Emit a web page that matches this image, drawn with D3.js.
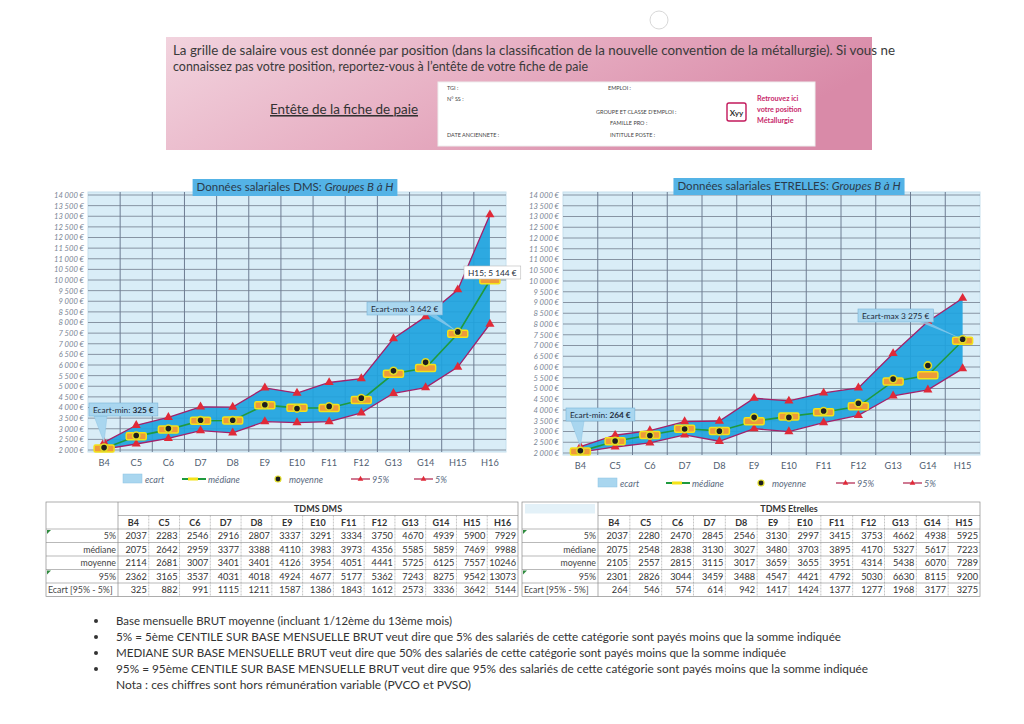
<!DOCTYPE html>
<html><head><meta charset="utf-8">
<script src="https://cdn.jsdelivr.net/npm/d3@7"></script>
<style>
body{margin:0;background:#fff}
svg{display:block}
text{font-family:Lato,"Open Sans",sans-serif}
</style>
</head><body>
<svg id="c" width="1024" height="724"></svg>
<script>
// ---------- DATA ----------
const catsDMS = ["B4","C5","C6","D7","D8","E9","E10","F11","F12","G13","G14","H15","H16"];
const dms5    = [2037,2283,2546,2916,2807,3337,3291,3334,3750,4670,4939,5900,7929];
const dmsMed  = [2075,2642,2959,3377,3388,4110,3983,3973,4356,5585,5859,7469,9988];
const dmsMoy  = [2114,2681,3007,3401,3401,4126,3954,4051,4441,5725,6125,7557,10246];
const dms95   = [2362,3165,3537,4031,4018,4924,4677,5177,5362,7243,8275,9542,13073];
const dmsEcart= [325,882,991,1115,1211,1587,1386,1843,1612,2573,3336,3642,5144];

const catsETR = ["B4","C5","C6","D7","D8","E9","E10","F11","F12","G13","G14","H15"];
const etr5    = [2037,2280,2470,2845,2546,3130,2997,3415,3753,4662,4938,5925];
const etrMed  = [2075,2548,2838,3130,3027,3480,3703,3895,4170,5327,5617,7223];
const etrMoy  = [2105,2557,2815,3115,3017,3659,3655,3951,4314,5438,6070,7289];
const etr95   = [2301,2826,3044,3459,3488,4547,4421,4792,5030,6630,8115,9200];
const etrEcart= [264,546,574,614,942,1417,1424,1377,1277,1968,3177,3275];

const yTickValues = d3.range(2000, 14001, 500);
const rowLabels = ["5%","médiane","moyenne","95%","Ecart [95% - 5%]"];
const legendLabels = ["ecart","médiane","moyenne","95%","5%"];

const headerLines = [
 "La grille de salaire vous est donnée par position (dans la classification de la nouvelle convention de la métallurgie). Si vous ne",
 "connaissez pas votre position, reportez-vous à l\u2019entête de votre fiche de paie"
];
const bullets = [
 "Base mensuelle BRUT moyenne (incluant 1/12ème du 13ème mois)",
 "5% = 5ème CENTILE SUR BASE MENSUELLE BRUT veut dire que 5% des salariés de cette catégorie sont payés moins que la somme indiquée",
 "MEDIANE SUR BASE MENSUELLE BRUT veut dire que 50% des salariés de cette catégorie sont payés moins que la somme indiquée",
 "95% = 95ème CENTILE SUR BASE MENSUELLE BRUT veut dire que 95% des salariés de cette catégorie sont payés moins que la somme indiquée",
 "Nota : ces chiffres sont hors rémunération variable (PVCO et PVSO)"
];

// ---------- SETUP ----------
const svg = d3.select("#c");
const loc = d3.formatLocale({decimal:",", thousands:"\u00a0", grouping:[3], currency:["",""]});
const fmtNum = loc.format(",d");
const fmtEuro = v => fmtNum(v) + "\u00a0€";

// ---------- HEADER ----------
const defs = svg.append("defs");
const pg = defs.append("linearGradient").attr("id","pink").attr("x1","0").attr("x2","1").attr("y1","0").attr("y2","0.3");
pg.append("stop").attr("offset","0").attr("stop-color","#f2d3de");
pg.append("stop").attr("offset","0.5").attr("stop-color","#e7afc3");
pg.append("stop").attr("offset","1").attr("stop-color","#d98aa8");
svg.append("rect").attr("x",166).attr("y",37).attr("width",706).attr("height",113).attr("fill","url(#pink)");
// punch hole mark
svg.append("circle").attr("cx",659).attr("cy",20).attr("r",9).attr("fill","none").attr("stroke","#d8d8d8").attr("stroke-width",1);

const hlW = [722, 415];
headerLines.forEach((t,i)=>{
  svg.append("text").attr("x",173).attr("y",55+i*16).attr("font-size",12.5).attr("fill","#3a3a3a")
    .attr("textLength",hlW[i]).attr("lengthAdjust","spacingAndGlyphs").text(t);
});
svg.append("text").attr("x",270).attr("y",114).attr("font-size",12.5).attr("fill","#333")
  .attr("text-decoration","underline").attr("textLength",148).attr("lengthAdjust","spacingAndGlyphs").text("Entête de la fiche de paie");
svg.append("line").attr("x1",270).attr("x2",418).attr("y1",116).attr("y2",116).attr("stroke","#333").attr("stroke-width",0.8);

svg.append("rect").attr("x",438).attr("y",82).attr("width",377).attr("height",64).attr("fill","#fff").attr("stroke","#eee");
const boxTexts = [["TGI :",447,90],["EMPLOI :",608,90],["N° SS :",447,101],["GROUPE ET CLASSE D'EMPLOI :",596,114],
  ["FAMILLE PRO :",610,125],["DATE ANCIENNETE :",447,137],["INTITULE POSTE :",610,137]];
boxTexts.forEach(([t,x,y])=>svg.append("text").attr("x",x).attr("y",y).attr("font-size",5.5)
  .attr("font-family","Liberation Serif, serif").attr("fill","#444").text(t));
svg.append("rect").attr("x",727).attr("y",103).attr("width",19).attr("height",18).attr("rx",2)
  .attr("fill","#fff").attr("stroke","#c2185b").attr("stroke-width",1.4);
svg.append("text").attr("x",736.5).attr("y",115.5).attr("text-anchor","middle").attr("font-size",8).attr("font-weight","bold").attr("fill","#333").text("Xyy");
["Retrouvez ici","votre position","Métallurgie"].forEach((t,i)=>svg.append("text").attr("x",757).attr("y",101+i*11)
  .attr("font-size",7.2).attr("font-weight","bold").attr("fill","#c8286a").text(t));

// ---------- CHARTS ----------
function drawChart(o){
  const g = svg.append("g");
  const x = d3.scaleBand().domain(o.cats).range([o.x0,o.x1]).padding(0);
  const cx = c => x(c) + x.bandwidth()/2;
  const y = d3.scaleLinear().domain([2000,14000]).range([o.yBot,o.yTop]);
  const data = o.cats.map((c,i)=>({c, lo:o.p5[i], hi:o.p95[i], med:o.med[i], moy:o.moy[i]}));

  g.append("rect").attr("x",o.x0).attr("y",o.yTop-3).attr("width",o.x1-o.x0).attr("height",o.yBot-o.yTop+5)
    .attr("fill","#d9edf7").attr("stroke","#c6e0ee");
  g.selectAll(".hg").data(yTickValues).join("line")
    .attr("x1",o.x0).attr("x2",o.x1).attr("y1",d=>y(d)).attr("y2",d=>y(d))
    .attr("stroke","#7e8a99").attr("stroke-width",0.9);
  g.selectAll(".vg").data(o.cats.slice(1)).join("line")
    .attr("x1",d=>x(d)).attr("x2",d=>x(d)).attr("y1",o.yTop-3).attr("y2",o.yBot+2)
    .attr("stroke","#6d7c92").attr("stroke-width",1);

  // y labels
  const ya = d3.axisLeft(y).tickValues(yTickValues).tickSize(0).tickPadding(0).tickFormat(fmtEuro);
  const yg = g.append("g").attr("transform",`translate(${o.x0-4},0)`).call(ya);
  yg.select(".domain").remove();
  yg.selectAll("text").attr("font-size",7.6).attr("font-style","italic").attr("fill","#7a8594").attr("font-family","Lato, sans-serif");
  // x labels
  const xa = d3.axisBottom(x).tickSize(0).tickPadding(0);
  const xg = g.append("g").attr("transform",`translate(0,${o.xLabY})`).call(xa);
  xg.select(".domain").remove();
  xg.selectAll("text").attr("font-size",9.2).attr("fill","#4f5d70").attr("font-family","Lato, sans-serif");

  // ecart area
  g.append("path").datum(data).attr("d", d3.area().x(d=>cx(d.c)).y0(d=>y(d.lo)).y1(d=>y(d.hi)))
    .attr("fill","#1ea3de").attr("fill-opacity",0.92);
  const line = k => d3.line().x(d=>cx(d.c)).y(d=>y(d[k]));
  g.append("path").datum(data).attr("d",line("hi")).attr("fill","none").attr("stroke","#a4206a").attr("stroke-width",1.3);
  g.append("path").datum(data).attr("d",line("lo")).attr("fill","none").attr("stroke","#a4206a").attr("stroke-width",1.3);
  g.append("path").datum(data).attr("d",line("med")).attr("fill","none").attr("stroke","#1f9a3e").attr("stroke-width",1.6);
  const tri = d3.symbol().type(d3.symbolTriangle).size(36);
  ["hi","lo"].forEach(k=>{
    g.selectAll(".t"+k).data(data).join("path").attr("d",tri)
      .attr("transform",d=>`translate(${cx(d.c)},${y(d[k])})`).attr("fill","#e02a38");
  });
  g.selectAll(".medm").data(data).join("rect")
    .attr("x",d=>cx(d.c)-10).attr("y",d=>y(d.med)-3.5).attr("width",20).attr("height",7).attr("rx",1.5)
    .attr("fill","#ee9a3a").attr("stroke","#f4e318").attr("stroke-width",1.5);
  g.selectAll(".moym").data(data).join("circle")
    .attr("cx",d=>cx(d.c)).attr("cy",d=>y(d.moy)).attr("r",3.6)
    .attr("fill","#1e1e1e").attr("stroke","#e0dc28").attr("stroke-width",1.6);

  // title
  const tt = g.append("text").attr("x",o.titleX).attr("y",o.titleY).attr("text-anchor","middle").attr("font-size",11.5).attr("fill","#2b3a4a");
  tt.append("tspan").text(o.title);
  tt.append("tspan").attr("font-style","italic").text("Groupes B à H");
  const bb = tt.node().getBBox();
  g.insert("rect", () => tt.node()).attr("x",bb.x-4).attr("y",o.titleY-12).attr("width",bb.width+8).attr("height",17).attr("fill","#54b3e6");

  // callouts
  o.callouts.forEach(c=>{
    const px = cx(c.cat), py = y(c.val);
    const tg = g.append("text").attr("x",c.bx+4).attr("y",c.by+9.5).attr("font-size",8.3).attr("fill","#1d2a3a");
    tg.append("tspan").text(c.t1);
    if (c.t2) tg.append("tspan").attr("font-weight","bold").text(c.t2);
    const b = tg.node().getBBox();
    const w = b.width+8, h = 13;
    if (c.style==="white"){
      g.insert("rect",()=>tg.node()).attr("x",c.bx).attr("y",c.by).attr("width",w).attr("height",h).attr("fill","#fff").attr("stroke","#bbb").attr("stroke-width",0.6);
    } else {
      if (c.ptr==="tri"){
        g.insert("path",()=>tg.node()).attr("d",`M${c.bx+5},${c.by+h} L${px},${py} L${c.bx+18},${c.by+h}Z`).attr("fill","#a9d6ef").attr("stroke","#8cc3e3").attr("stroke-width",0.5);
      } else {
        g.insert("path",()=>tg.node()).attr("d",`M${c.bx+w-14},${c.by+h} L${px},${py} L${c.bx+w-6},${c.by+h}Z`).attr("fill","#8fcbec").attr("fill-opacity",0.8);
      }
      g.insert("rect",()=>tg.node()).attr("x",c.bx).attr("y",c.by).attr("width",w).attr("height",h).attr("fill","#a9d6ef").attr("stroke","#79b4d8").attr("stroke-width",0.6);
    }
  });

  // legend
  const L = o.legend, ly = o.legY;
  g.append("rect").attr("x",L[0]).attr("y",ly-5).attr("width",19).attr("height",9).attr("fill","#a9d6ef").attr("stroke","#8cc3e3").attr("stroke-width",0.5);
  g.append("line").attr("x1",L[1]).attr("x2",L[1]+24).attr("y1",ly).attr("y2",ly).attr("stroke","#1f9a3e").attr("stroke-width",2);
  g.append("rect").attr("x",L[1]+6).attr("y",ly-1.5).attr("width",10).attr("height",3).attr("fill","#f4e318");
  g.append("circle").attr("cx",L[2]).attr("cy",ly).attr("r",3).attr("fill","#1e1e1e").attr("stroke","#e0dc28").attr("stroke-width",1.2);
  [3,4].forEach(k=>{
    g.append("line").attr("x1",L[k]).attr("x2",L[k]+19).attr("y1",ly).attr("y2",ly).attr("stroke","#b0204a").attr("stroke-width",1.2);
    g.append("path").attr("d",d3.symbol().type(d3.symbolTriangle).size(14)).attr("transform",`translate(${L[k]+9.5},${ly})`).attr("fill","#e02a38");
  });
  const lx = [L[0]+22, L[1]+26, L[2]+11, L[3]+21, L[4]+21];
  legendLabels.forEach((t,i)=>g.append("text").attr("x",lx[i]).attr("y",ly+3.5).attr("font-size",9).attr("font-style","italic").attr("fill","#5a6a80").text(t));
}

drawChart({cats:catsDMS, p5:dms5, p95:dms95, med:dmsMed, moy:dmsMoy,
  x0:88, x1:506, yTop:195, yBot:450, xLabY:459,
  title:"Données salariales DMS: ", titleX:295, titleY:191,
  callouts:[
    {cat:"B4", val:2362, bx:89, by:403, t1:"Ecart-min: ", t2:"325 €", ptr:"tri"},
    {cat:"H15", val:7557, bx:367, by:302, t1:"Ecart-max  3 642 €", ptr:"line"},
    {cat:"H16", val:13073, bx:464, by:266, t1:"H15; 5 144 €", style:"white"}
  ],
  legend:[123,182,278,351,414], legY:479});

drawChart({cats:catsETR, p5:etr5, p95:etr95, med:etrMed, moy:etrMoy,
  x0:563, x1:980, yTop:195, yBot:453, xLabY:462,
  title:"Données salariales ETRELLES: ", titleX:789, titleY:190,
  callouts:[
    {cat:"B4", val:2301, bx:566, by:408, t1:"Ecart-min: ", t2:"264 €", ptr:"tri"},
    {cat:"H15", val:7289, bx:858, by:309, t1:"Ecart-max  3 275 €", ptr:"line"}
  ],
  legend:[598,666,761,836,903], legY:483});

// ---------- TABLES ----------
function drawTable(o){
  const g = svg.append("g");
  const cols = o.cats.length;
  const colW = (o.x1 - o.xl) / cols;
  const rh = 13.5, top = 502;
  const rows = [o.r5,o.rMed,o.rMoy,o.r95,o.rEc];
  const st = "#8a8a8a";
  // borders
  g.append("rect").attr("x",o.x0).attr("y",top).attr("width",o.x1-o.x0).attr("height",rh*7).attr("fill","none").attr("stroke",st).attr("stroke-width",0.7);
  d3.range(1,7).forEach(r=>{
    g.append("line").attr("x1", r===1? o.xl : o.x0).attr("x2",o.x1).attr("y1",top+r*rh).attr("y2",top+r*rh).attr("stroke",st).attr("stroke-width",0.6);
  });
  g.append("line").attr("x1",o.xl).attr("x2",o.xl).attr("y1",top).attr("y2",top+rh*7).attr("stroke",st).attr("stroke-width",0.7);
  d3.range(1,cols).forEach(c=>{
    g.append("line").attr("x1",o.xl+c*colW).attr("x2",o.xl+c*colW).attr("y1",top+rh).attr("y2",top+rh*7)
      .attr("stroke",st).attr("stroke-width",0.5).attr("stroke-dasharray","2,1");
  });
  if (o.tint) g.append("rect").attr("x",o.x0+3).attr("y",top+2).attr("width",o.xl-o.x0-6).attr("height",rh-4).attr("fill","#e3f1f8");
  g.append("text").attr("x",(o.xl+o.x1)/2).attr("y",top+rh-3.5).attr("text-anchor","middle").attr("font-size",9).attr("font-weight","bold").attr("fill","#333").text(o.title);
  o.cats.forEach((c,i)=>g.append("text").attr("x",o.xl+(i+0.5)*colW).attr("y",top+2*rh-3.5).attr("text-anchor","middle")
    .attr("font-size",9).attr("font-weight","bold").attr("fill","#333").text(c));
  rows.forEach((arr,r)=>{
    const yy = top+(r+3)*rh-3.5;
    const last = r===4;
    g.append("text").attr("x", last? o.x0+2 : o.xl-2).attr("y",yy).attr("text-anchor", last? "start":"end")
      .attr("font-size",8.8).attr("fill","#444").text(rowLabels[r]);
    arr.forEach((v,i)=>g.append("text").attr("x",o.xl+(i+1)*colW-2).attr("y",yy).attr("text-anchor","end")
      .attr("font-size",9.2).attr("fill","#333").text(v));
  });
  // excel green markers
  [0,3].forEach(r=>g.append("path").attr("d",`M${o.x0+1},${top+(r+2)*rh+1} l4,0 l-4,4Z`).attr("fill","#2e8b3e"));
}
drawTable({cats:catsDMS, r5:dms5, rMed:dmsMed, rMoy:dmsMoy, r95:dms95, rEc:dmsEcart,
  x0:46, xl:118, x1:518, title:"TDMS DMS"});
drawTable({cats:catsETR, r5:etr5, rMed:etrMed, rMoy:etrMoy, r95:etr95, rEc:etrEcart,
  x0:522, xl:598, x1:980, title:"TDMS Etrelles", tint:true});

// ---------- BULLETS ----------
const bW = [336, 725, 670, 752, 355];
bullets.forEach((t,i)=>{
  const yy = 625 + i*16;
  if (i<4) svg.append("circle").attr("cx",96).attr("cy",yy-4).attr("r",2).attr("fill","#333");
  svg.append("text").attr("x",116).attr("y",yy).attr("font-size",11.5).attr("fill","#333")
    .attr("textLength",bW[i]).attr("lengthAdjust","spacingAndGlyphs").text(t);
});
</script>
</body></html>
